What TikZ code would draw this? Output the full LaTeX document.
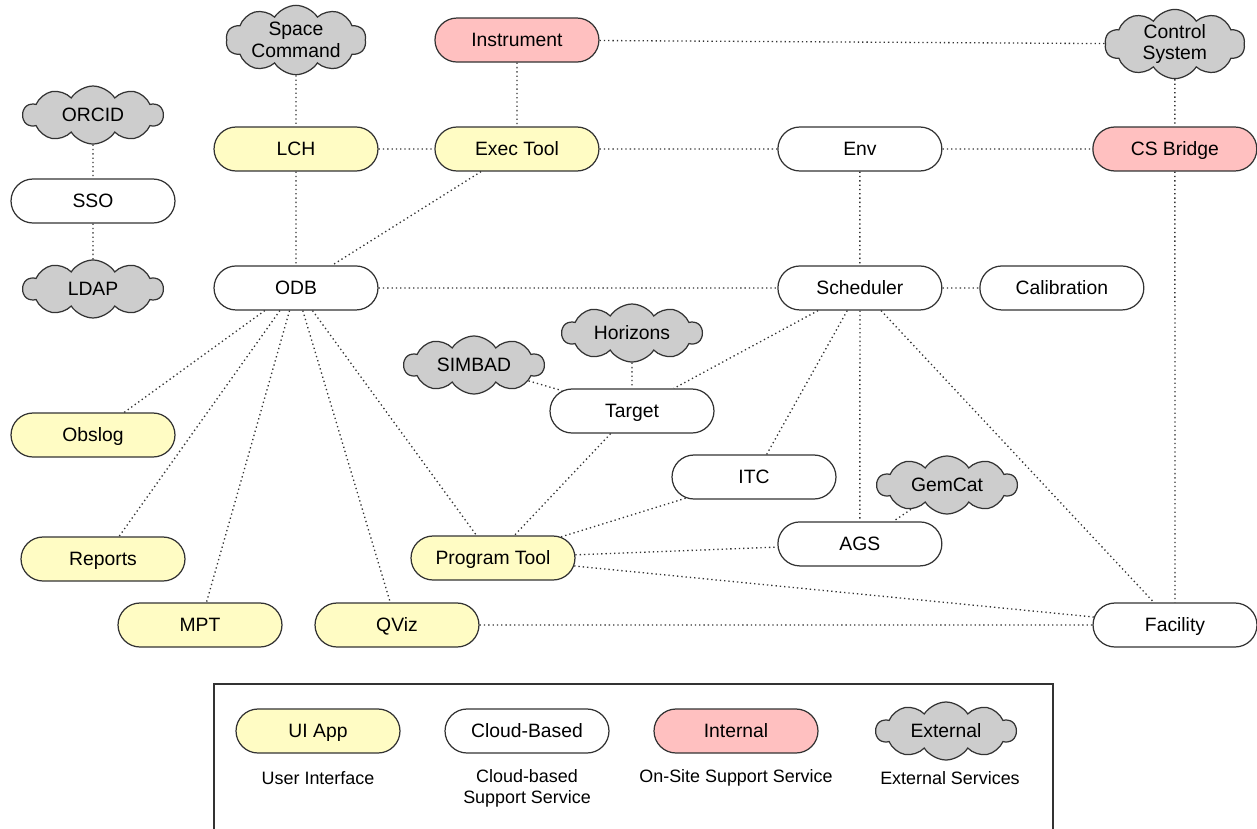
\documentclass[tikz,border=0pt]{standalone}
\usepackage{fontspec}
\setmainfont{Liberation Sans}
\usepackage{tikz}
\usetikzlibrary{positioning,shapes.misc,shapes.symbols}

\definecolor{uiyellow}{HTML}{FFFCC4}
\definecolor{sitepink}{HTML}{FFC0C0}
\definecolor{extgray}{HTML}{CDCDCD}
\definecolor{edgegray}{HTML}{333333}

\tikzset{
  svc/.style={rounded rectangle, draw=edgegray, line width=0.7pt,
    minimum width=3.28cm, minimum height=0.88cm, inner sep=0pt,
    text height=7.9pt, text depth=0pt,
    font=\fontsize{11}{12.5}\selectfont},
  uiapp/.style={svc, fill=uiyellow},
  cloudsvc/.style={svc, fill=white},
  onsite/.style={svc, fill=sitepink},
  ext/.style={cloud, cloud puffs=10, cloud puff arc=115, cloud ignores aspect,
    draw=edgegray, fill=extgray, line width=0.7pt, minimum width=2.8cm,
    minimum height=1.16cm, inner sep=0pt, align=center,
    font=\fontsize{11}{12.5}\selectfont},
  link/.style={draw=edgegray, line width=0.75pt, dash pattern=on 0.75pt off 1.7pt},
  legtext/.style={font=\fontsize{10.2}{12}\selectfont, align=center}
}

\begin{document}
\begin{tikzpicture}[x=0.02cm, y=-0.02cm, on grid]
  \useasboundingbox (0,0) rectangle (1257,828);

  % main column: LCH / ODB
  \node[uiapp] (lch) at (296,149) {LCH};
  \node[ext] (spacecmd) [above=2.18cm of lch] {Space\\Command};
  \node[cloudsvc] (odb) [below=2.78cm of lch] {ODB};
  \node[uiapp] (exectool) [right=4.42cm of lch] {Exec Tool};
  \node[onsite] (instrument) [above=2.18cm of exectool] {Instrument};
  \node[cloudsvc] (env) [right=6.86cm of exectool] {Env};
  \node[onsite] (csbridge) [right=6.3cm of env] {CS Bridge};
  \node[ext, minimum height=1.24cm] (ctrlsys) [above=2.1cm of csbridge] {Control\\System};
  \node[cloudsvc] (scheduler) [below=2.78cm of env] {Scheduler};
  \node[cloudsvc] (calibration) [right=4.04cm of scheduler] {Calibration};

  % login
  \node[cloudsvc] (sso) at (93,201) {SSO};
  \node[ext] (orcid) [above=1.72cm of sso] {ORCID};
  \node[ext] (ldap) [below=1.76cm of sso] {LDAP};

  % targets and tools
  \node[cloudsvc] (target) at (632,411) {Target};
  \node[ext] (horizons) [above=1.56cm of target] {Horizons};
  \node[ext] (simbad) at (474,365) {SIMBAD};
  \node[cloudsvc] (itc) at (754,477) {ITC};
  \node[cloudsvc] (ags) [below=5.12cm of scheduler] {AGS};
  \node[ext] (gemcat) at (947,485) {GemCat};
  \node[uiapp] (progtool) at (493,558) {Program Tool};
  \node[cloudsvc] (facility) at (1175,625) {Facility};

  % apps
  \node[uiapp] (obslog) at (93,435) {Obslog};
  \node[uiapp] (reports) at (103,559) {Reports};
  \node[uiapp] (mpt) at (200,625) {MPT};
  \node[uiapp] (qviz) at (397,625) {QViz};

  \path[link]
    (spacecmd) edge (lch)
    (lch) edge (odb)
    (lch) edge (exectool)
    (instrument) edge (exectool)
    (instrument) edge (ctrlsys)
    (exectool) edge (env)
    (exectool) edge (odb)
    (env) edge (csbridge)
    (ctrlsys) edge (csbridge)
    (env) edge (scheduler)
    (csbridge) edge (facility)
    (odb) edge (scheduler)
    (scheduler) edge (calibration)
    (orcid) edge (sso)
    (sso) edge (ldap)
    (odb) edge (obslog)
    (odb) edge (reports)
    (odb) edge (mpt)
    (odb) edge (qviz)
    (odb) edge (progtool)
    (scheduler) edge (target)
    (scheduler) edge (itc)
    (scheduler) edge (ags)
    (scheduler) edge (facility)
    (horizons) edge (target)
    (simbad) edge (target)
    (target) edge (progtool)
    (progtool) edge (itc)
    (progtool) edge (ags)
    (progtool) edge (facility)
    (gemcat) edge (ags)
    (qviz) edge (facility);

  % legend
  \draw[edgegray, line width=0.8pt] (214,684) rectangle (1053,860);
  \node[uiapp] (leg-ui) at (318,731) {UI App};
  \node[cloudsvc] (leg-cloud) at (527,731) {Cloud-Based};
  \node[onsite] (leg-int) at (736,731) {Internal};
  \node[ext] (leg-ext) at (946,731) {External};
  \node[legtext] (leg-ui-txt) at (318,778) {User Interface};
  \node[legtext] (leg-cloud-txt) at (527,788) {Cloud-based\\Support Service};
  \node[legtext] (leg-int-txt) at (736,778) {On-Site Support Service};
  \node[legtext] (leg-ext-txt) at (950,778) {External Services};
\end{tikzpicture}
\end{document}
